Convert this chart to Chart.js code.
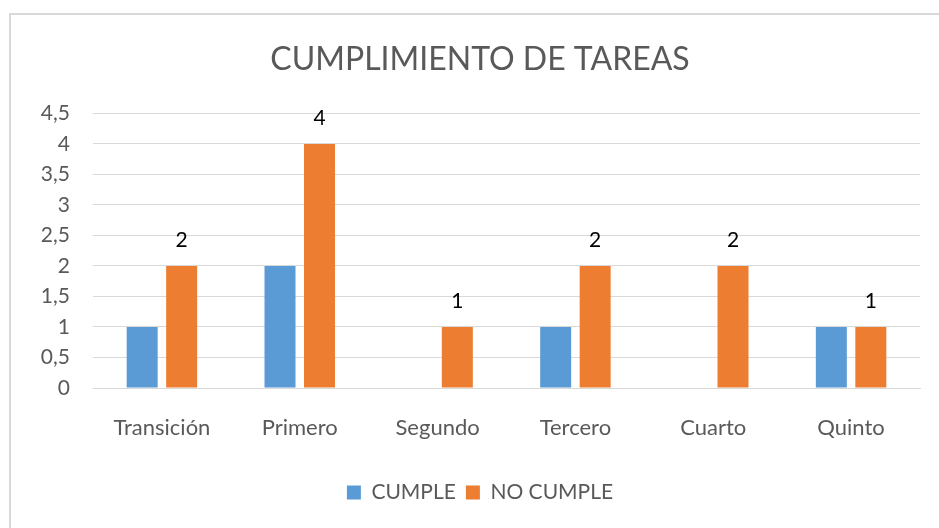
<!DOCTYPE html>
<html>
<head>
<meta charset="utf-8">
<script src="https://cdn.jsdelivr.net/npm/chart.js@4/dist/chart.umd.min.js"></script>
<style>
html,body{margin:0;padding:0;background:#fff;overflow:hidden;}
#wrap{position:relative;width:939px;height:528px;overflow:hidden;}
</style>
</head>
<body>
<div id="wrap"><canvas id="c" width="939" height="528"></canvas></div>
<script>
const categories = ["Transición", "Primero", "Segundo", "Tercero", "Cuarto", "Quinto"];
const cumple = [1, 2, 0, 1, 0, 1];
const noCumple = [2, 4, 1, 2, 2, 1];
const seriesNames = ["CUMPLE", "NO CUMPLE"];
const chartTitle = "CUMPLIMIENTO DE TAREAS";

const FONT = "Lato, 'Open Sans', sans-serif";
const TXT = "#595959";

const borderPlugin = {
  id: 'outerBorder',
  beforeDraw(chart) {
    const ctx = chart.ctx;
    ctx.save();
    ctx.fillStyle = '#fff';
    ctx.fillRect(0, 0, chart.width, chart.height);
    ctx.strokeStyle = '#d9d9d9';
    ctx.lineWidth = 2;
    ctx.strokeRect(10, 14, 1000, 1000);
    ctx.restore();
  }
};

const labelPlugin = {
  id: 'valueLabels',
  afterDatasetsDraw(chart) {
    const ctx = chart.ctx;
    const meta = chart.getDatasetMeta(1);
    const data = chart.data.datasets[1].data;
    ctx.save();
    ctx.font = "21px " + FONT;
    ctx.fillStyle = "#000";
    ctx.textAlign = "center";
    ctx.textBaseline = "middle";
    meta.data.forEach((bar, i) => {
      ctx.fillText(String(data[i]), bar.x, bar.y - 26);
    });
    ctx.restore();
  }
};

new Chart(document.getElementById('c'), {
  type: 'bar',
  data: {
    labels: categories,
    datasets: [
      { label: seriesNames[0], data: cumple, backgroundColor: '#5B9BD5', borderWidth: 0 },
      { label: seriesNames[1], data: noCumple, backgroundColor: '#ED7D31', borderWidth: 0 }
    ]
  },
  options: {
    responsive: false,
    animation: false,
    devicePixelRatio: 1,
    categoryPercentage: 0.573,
    barPercentage: 0.785,
    layout: { padding: { left: 40, right: 19, top: 32, bottom: 15 } },
    plugins: {
      title: {
        display: true,
        text: chartTitle,
        color: TXT,
        font: { family: FONT, size: 32, weight: 'normal' },
        padding: { top: 8, bottom: 35 }
      },
      legend: {
        position: 'bottom',
        labels: {
          color: TXT,
          font: { family: FONT, size: 21 },
          boxWidth: 14,
          boxHeight: 14,
          padding: 10
        }
      },
      tooltip: { enabled: false }
    },
    scales: {
      x: {
        grid: { display: false, drawTicks: false },
        border: { display: true, color: '#d9d9d9', width: 1 },
        ticks: { color: TXT, font: { family: FONT, size: 22 }, padding: 27, maxRotation: 0 },
        afterFit(s) { s.height = 84; }
      },
      y: {
        min: 0, max: 4.5,
        grid: { color: '#d9d9d9', lineWidth: 1, drawTicks: false },
        border: { display: false },
        ticks: {
          stepSize: 0.5,
          color: TXT,
          font: { family: FONT, size: 21 },
          padding: 23,
          callback: v => String(v).replace('.', ',')
        },
        afterFit(s) { s.width = 53; }
      }
    }
  },
  plugins: [borderPlugin, labelPlugin]
});
</script>
</body>
</html>
